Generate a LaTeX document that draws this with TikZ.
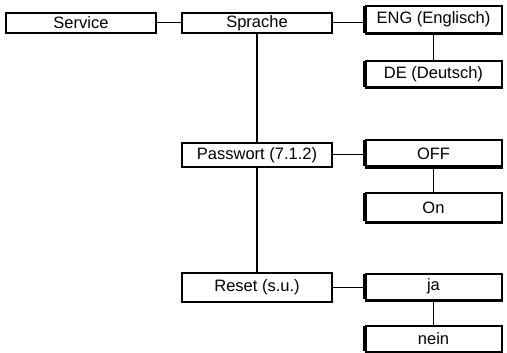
\documentclass[tikz,border=0pt]{standalone}
\usepackage{fontspec}
\setmainfont{Liberation Sans}
\begin{document}
\begin{tikzpicture}[x=1pt,y=-1pt,
  every node/.style={font=\fontsize{16.5}{18}\selectfont, inner sep=0pt},
  menubox/.style={draw, line width=1.4pt, minimum width=150pt},
  optbox/.style={draw, line width=2pt, minimum width=136pt},
  hlink/.style={line width=1pt},
  vlink/.style={line width=1.8pt}]
\useasboundingbox (0,0) rectangle (507,353);

% main menu column
\node[menubox, minimum height=20pt] (service)  at (81,23)    {Service};
\node[menubox, minimum height=20pt] (sprache)  at (257,23)   {Sprache};
\node[menubox, minimum height=24pt] (passwort) at (257,155)  {Passwort (7.1.2)};
\node[menubox, minimum height=29pt] (reset)    at (257,287.5){Reset (s.u.)};

% option boxes
\node[optbox, minimum height=27pt] (eng)  at (433.5,19.5) {ENG (Englisch)};
\node[optbox, minimum height=26pt] (de)   at (433.5,74)   {DE (Deutsch)};
\node[optbox, minimum height=26pt] (off)  at (433.5,153.5){OFF};
\node[optbox, minimum height=28pt] (on)   at (433.5,207.5){On};
\node[optbox, minimum height=26pt] (ja)   at (433.5,286.5){ja};
\node[optbox, minimum height=26pt] (nein) at (433.5,338.5){nein};

% heavier left and bottom edges of the option boxes
\foreach \n in {eng,de,off,on,ja,nein}{
  \draw[line width=3.4pt] ([yshift=-1pt]\n.north west) -- ([yshift=1.3pt]\n.south west);
  \draw[line width=3pt] (\n.south west) -- (\n.south east);
}

% connectors
\draw[hlink] (service.east) -- (sprache.west);
\draw[vlink] (sprache.south) -- (passwort.north);
\draw[vlink] (passwort.south) -- (reset.north);
\draw[hlink] (sprache.east) -- (sprache.east -| eng.west);
\draw[hlink] (passwort.east) -- (passwort.east -| off.west);
\draw[hlink] (reset.east) -- (reset.east -| ja.west);
\draw[vlink] (eng.south) -- (de.north);
\draw[vlink] (off.south) -- (on.north);
\draw[vlink] (ja.south) -- (nein.north);
\end{tikzpicture}
\end{document}
